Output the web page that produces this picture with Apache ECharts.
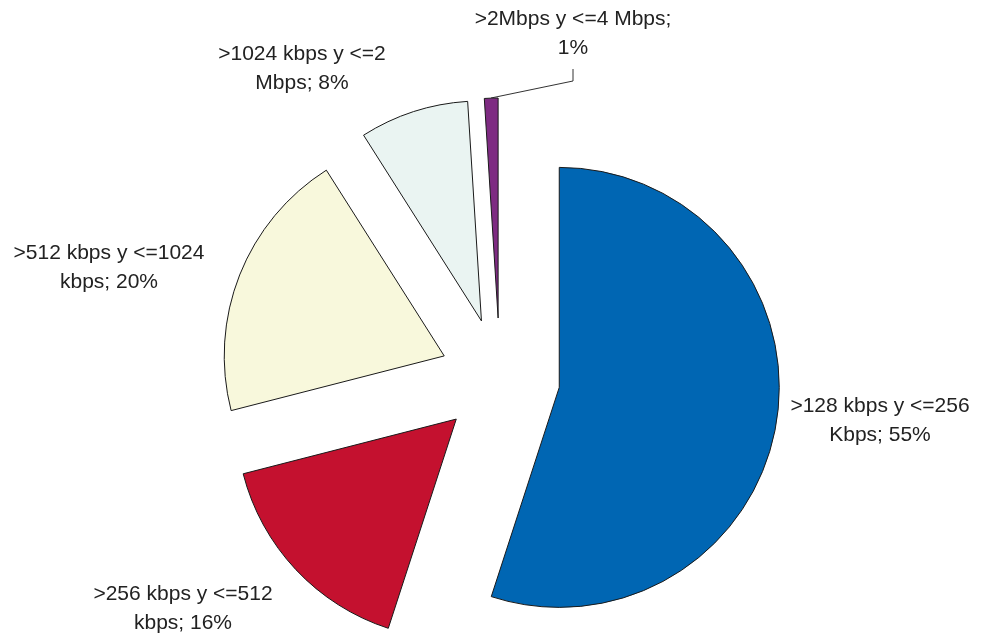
<!DOCTYPE html>
<html>
<head>
<meta charset="utf-8">
<script src="https://cdn.jsdelivr.net/npm/echarts@6/dist/echarts.min.js"></script>
<style>
  html, body { margin: 0; padding: 0; background: #fff; }
  #main { width: 983px; height: 637px; }
</style>
</head>
<body>
<div id="main"></div>
<script>
var categories = ['>128 kbps y <=256 Kbps', '>256 kbps y <=512 kbps', '>512 kbps y <=1024 kbps', '>1024 kbps y <=2 Mbps', '>2Mbps y <=4 Mbps'];
var shares = [55, 16, 20, 8, 1];
var labelTexts = [
    '>128 kbps y <=256\nKbps; 55%',
    '>256 kbps y <=512\nkbps; 16%',
    '>512 kbps y <=1024\nkbps; 20%',
    '>1024 kbps y <=2\nMbps; 8%',
    '>2Mbps y <=4 Mbps;\n1%'
];
var colors = ['#0066b3', '#c4112f', '#f8f8dc', '#eaf4f2', '#7e2b82'];

// centre of each label block
var labelSpots = [[880, 421], [183, 609], [109, 268], [302, 69], [573, 34]];

var chartDom = document.getElementById('main');
var myChart = echarts.init(chartDom);

var seriesData = categories.map(function (name, i) {
    return {
        name: name,
        value: shares[i],
        selected: true,
        itemStyle: { color: colors[i] }
    };
});

var labelGraphics = labelTexts.map(function (txt, i) {
    return {
        type: 'text',
        x: labelSpots[i][0],
        y: labelSpots[i][1],
        silent: true,
        style: {
            text: txt,
            fill: '#222',
            font: '21px "Liberation Sans", Arial, sans-serif',
            lineHeight: 29,
            align: 'center',
            verticalAlign: 'middle'
        }
    };
});

// leader line for the small slice
labelGraphics.push({
    type: 'polyline',
    silent: true,
    shape: { points: [[491, 98], [573, 81], [573, 69]] },
    style: { stroke: '#333', lineWidth: 1, fill: null }
});

var option = {
    animation: false,
    backgroundColor: '#ffffff',
    graphic: labelGraphics,
    series: [
        {
            type: 'pie',
            center: [500, 378],
            radius: [0, 220],
            startAngle: 90,
            clockwise: true,
            selectedMode: 'multiple',
            selectedOffset: 60,
            itemStyle: {
                borderColor: '#1a1a1a',
                borderWidth: 1
            },
            emphasis: { disabled: true },
            label: { show: false },
            labelLine: { show: false },
            data: seriesData
        }
    ]
};

myChart.setOption(option);
</script>
</body>
</html>
